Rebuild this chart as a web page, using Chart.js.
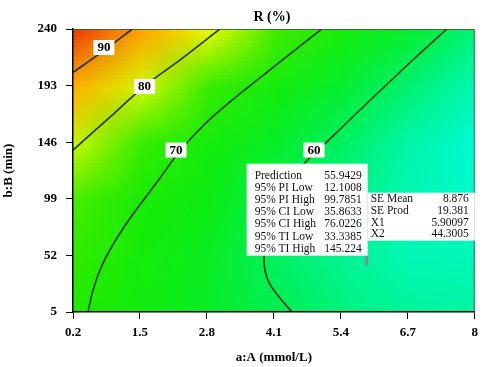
<!DOCTYPE html>
<html>
<head>
<meta charset="utf-8">
<script src="https://cdn.jsdelivr.net/npm/chart.js@4.4.1/dist/chart.umd.min.js"></script>
<style>
	html, body { margin: 0; padding: 0; background: #fff; }
	#wrap { width: 484px; height: 367px; }
</style>
</head>
<body>
<div id="wrap"><canvas id="chart-contour"></canvas></div>
<script>
// Axis ticks
const X_TICKS = [0.2, 1.5, 2.8, 4.1, 5.4, 6.7, 8];
const Y_TICKS = [5, 52, 99, 146, 193, 240];

// R (%) at each x tick, one row per y tick
const R_AT_240 = [95, 89, 81.5, 75, 68.5, 63, 58];
const R_AT_193 = [88, 80.5, 74, 67.5, 63, 58.5, 54];
const R_AT_146 = [80, 74, 68, 63.5, 59.5, 55, 51];
const R_AT_99 = [75.5, 70.2, 65.5, 61, 57.5, 54, 52];
const R_AT_52 = [73.5, 68.5, 64, 59.5, 56.5, 54, 53.5];
const R_AT_5 = [72, 67.5, 63.5, 60.8, 58, 56, 55.5];

// Contour lines [a, b]
const CONTOUR_90 = [[0.2, 204], [0.8, 222], [1.35, 240]];
const CONTOUR_80 = [[0.2, 139.5], [1.0, 170], [1.6, 193], [2.3, 215], [3.05, 240]];
const CONTOUR_70 = [[0.49, 5], [0.59, 23.3], [0.74, 41.5], [0.96, 59.8], [1.23, 78.1], [1.54, 96.3], [1.89, 116.3], [2.26, 137.9], [2.76, 161.1], [3.34, 182.7], [4.22, 212.6], [5.03, 240]];
const CONTOUR_60 = [[4.45, 5], [4.2, 17.5], [4.02, 28.3], [3.93, 39], [3.91, 51.5], [3.96, 64.8], [4.08, 79.7], [4.28, 98], [4.51, 114.6], [4.7, 128.7], [5.19, 148.7], [5.69, 169.4], [6.22, 191], [6.84, 215.9], [7.46, 240]];

// Contour label positions [value, a, b]
const CONTOUR_LABELS = [[90, 0.8, 224.6], [80, 1.59, 192.3], [70, 2.2, 139.5], [60, 4.88, 139.5]];

// Prediction flag
const FLAG_POINT = [5.90097, 44.3005];
const FLAG_LABELS = ["Prediction", "95% PI Low", "95% PI High", "95% CI Low", "95% CI High", "95% TI Low", "95% TI High"];
const FLAG_VALUES = ["55.9429", "12.1008", "99.7851", "35.8633", "76.0226", "33.3385", "145.224"];
const SE_LABELS = ["SE Mean", "SE Prod", "X1", "X2"];
const SE_VALUES = ["8.876", "19.381", "5.90097", "44.3005"];

const SERIF = "'Liberation Serif', 'Times New Roman', serif";

// Colour ramp (value -> rgb)
const RAMP = [
	[48, [0, 255, 235]],
	[52, [0, 250, 205]],
	[56, [0, 245, 155]],
	[60, [0, 240, 90]],
	[65, [12, 236, 20]],
	[72, [30, 235, 0]],
	[76, [75, 238, 0]],
	[79, [175, 244, 0]],
	[82, [245, 250, 0]],
	[86, [255, 205, 0]],
	[90, [255, 150, 0]],
	[96, [228, 45, 10]],
];

const rampColor = (v) => {
	if (v <= RAMP[0][0]) return RAMP[0][1];
	for (let i = 1; i < RAMP.length; i++) {
		if (v <= RAMP[i][0]) {
			const [v0, c0] = RAMP[i - 1];
			const [v1, c1] = RAMP[i];
			const t = (v - v0) / (v1 - v0);
			return c0.map((c, k) => Math.round(c + (c1[k] - c) * t));
		}
	}
	return RAMP[RAMP.length - 1][1];
};

const toPoints = (arr) => arr.map(([x, y]) => ({ x, y }));

// Surface colours drawn under everything, labels and flag on top
const surfacePlugin = {
	id: "surface",
	beforeDraw(chart) {
		const { ctx, chartArea, scales } = chart;
		const rows = [R_AT_240, R_AT_193, R_AT_146, R_AT_99, R_AT_52, R_AT_5];
		const off = document.createElement("canvas");
		off.width = X_TICKS.length;
		off.height = rows.length;
		const octx = off.getContext("2d");
		const img = octx.createImageData(off.width, off.height);
		rows.forEach((row, j) => {
			row.forEach((v, i) => {
				const c = rampColor(v);
				const p = (j * off.width + i) * 4;
				img.data[p] = c[0];
				img.data[p + 1] = c[1];
				img.data[p + 2] = c[2];
				img.data[p + 3] = 255;
			});
		});
		octx.putImageData(img, 0, 0);

		const x0 = scales.x.getPixelForValue(X_TICKS[0]);
		const cw = scales.x.getPixelForValue(X_TICKS[1]) - x0;
		const yTop = scales.y.getPixelForValue(Y_TICKS[Y_TICKS.length - 1]);
		const ch = scales.y.getPixelForValue(Y_TICKS[Y_TICKS.length - 2]) - yTop;

		ctx.save();
		ctx.beginPath();
		ctx.rect(chartArea.left, chartArea.top, chartArea.right - chartArea.left, chartArea.bottom - chartArea.top);
		ctx.clip();
		ctx.imageSmoothingEnabled = true;
		ctx.drawImage(off, x0 - cw / 2, yTop - ch / 2, cw * off.width, ch * off.height);
		ctx.restore();
	},
	afterDraw(chart) {
		const { ctx, chartArea, scales } = chart;
		ctx.save();

		// frame
		ctx.strokeStyle = "rgba(40,90,40,0.8)";
		ctx.lineWidth = 1;
		ctx.beginPath();
		ctx.moveTo(chartArea.left, chartArea.top + 0.5);
		ctx.lineTo(chartArea.right - 0.5, chartArea.top + 0.5);
		ctx.lineTo(chartArea.right - 0.5, chartArea.bottom);
		ctx.stroke();

		// title
		ctx.fillStyle = "#000";
		ctx.font = "bold 14px " + SERIF;
		ctx.textAlign = "center";
		ctx.textBaseline = "middle";
		ctx.fillText("R (%)", (chartArea.left + chartArea.right) / 2 - 2, 17);

		// contour labels
		ctx.font = "bold 13px " + SERIF;
		CONTOUR_LABELS.forEach(([v, a, b]) => {
			const x = scales.x.getPixelForValue(a);
			const y = scales.y.getPixelForValue(b);
			const w = ctx.measureText(String(v)).width + 8;
			ctx.fillStyle = "#fff";
			ctx.fillRect(x - w / 2, y - 7.5, w, 15);
			ctx.fillStyle = "#000";
			ctx.fillText(String(v), x, y + 0.5);
		});

		// prediction flag
		const fx = scales.x.getPixelForValue(FLAG_POINT[0]);
		const fy = scales.y.getPixelForValue(FLAG_POINT[1]);
		ctx.fillStyle = "#8a8a8a";
		ctx.fillRect(fx - 1.5, fy - 9, 3, 10);

		ctx.fillStyle = "#fff";
		ctx.fillRect(fx - 120, fy - 101, 121, 92);
		ctx.fillRect(fx + 1, fy - 72, chartArea.right - fx - 1, 48);

		ctx.fillStyle = "#111";
		ctx.font = "11.5px " + SERIF;
		FLAG_LABELS.forEach((t, i) => {
			const y = fy - 89 + i * 12.2;
			ctx.textAlign = "left";
			ctx.fillText(t, fx - 112, y);
			ctx.textAlign = "right";
			ctx.fillText(FLAG_VALUES[i], fx - 5, y);
		});
		SE_LABELS.forEach((t, i) => {
			const y = fy - 65.5 + i * 11.7;
			ctx.textAlign = "left";
			ctx.fillText(t, fx + 4, y);
			ctx.textAlign = "right";
			ctx.fillText(SE_VALUES[i], chartArea.right - 6, y);
		});
		ctx.restore();
	},
};

const LINE_STYLE = {
	borderColor: "rgba(15,40,15,0.92)",
	borderWidth: 1.6,
	pointRadius: 0,
	tension: 0.35,
	fill: false,
};

const DATA = {
	datasets: [
		{ label: "90", data: toPoints(CONTOUR_90), ...LINE_STYLE },
		{ label: "80", data: toPoints(CONTOUR_80), ...LINE_STYLE },
		{ label: "70", data: toPoints(CONTOUR_70), ...LINE_STYLE },
		{ label: "60", data: toPoints(CONTOUR_60), ...LINE_STYLE },
	],
};

const AXIS_FONT = { family: SERIF, size: 13, weight: "bold" };

const CONFIG = {
	type: "line",
	data: DATA,
	plugins: [surfacePlugin],
	options: {
		responsive: true,
		maintainAspectRatio: false,
		animation: false,
		events: [],
		layout: {
			padding: { top: 29, right: 9, bottom: 0, left: 0 },
		},
		plugins: {
			legend: { display: false },
			title: { display: false },
			tooltip: { enabled: false },
		},
		scales: {
			x: {
				type: "linear",
				min: X_TICKS[0],
				max: X_TICKS[X_TICKS.length - 1],
				afterBuildTicks: (s) => {
					s.ticks = X_TICKS.map((v) => ({ value: v }));
				},
				afterFit: (s) => {
					s.height = 55;
				},
				border: { display: true, color: "#000", width: 1.5 },
				grid: { drawOnChartArea: false, drawTicks: true, tickLength: 7, color: "#000" },
				ticks: {
					color: "#000",
					font: AXIS_FONT,
					padding: 6,
					maxRotation: 0,
					callback: (v) => String(v),
				},
				title: {
					display: true,
					text: "a:A (mmol/L)",
					color: "#000",
					font: AXIS_FONT,
					padding: { top: 0, bottom: 2 },
				},
			},
			y: {
				type: "linear",
				min: Y_TICKS[0],
				max: Y_TICKS[Y_TICKS.length - 1],
				afterBuildTicks: (s) => {
					s.ticks = Y_TICKS.map((v) => ({ value: v }));
				},
				afterFit: (s) => {
					s.width = 73;
				},
				border: { display: true, color: "#000", width: 1.5 },
				grid: { drawOnChartArea: false, drawTicks: true, tickLength: 7, color: "#000" },
				ticks: {
					color: "#000",
					font: AXIS_FONT,
					padding: 9,
					callback: (v) => String(v),
				},
				title: {
					display: true,
					text: "b:B (min)",
					color: "#000",
					font: AXIS_FONT,
					padding: { top: 1, bottom: 0 },
				},
			},
		},
	},
};

new Chart(document.getElementById("chart-contour"), CONFIG);
</script>
</body>
</html>
